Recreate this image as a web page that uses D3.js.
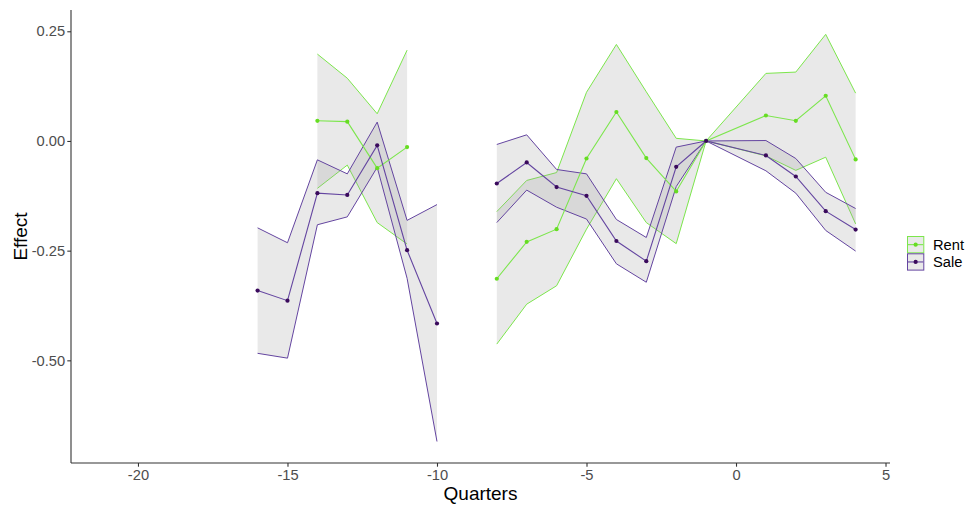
<!DOCTYPE html>
<html>
<head>
<meta charset="utf-8">
<script src="https://cdn.jsdelivr.net/npm/d3@7"></script>
<style>
  html, body { margin: 0; padding: 0; background: #fff; }
  svg { display: block; font-family: "Liberation Sans", Arial, sans-serif; }
</style>
</head>
<body>
<svg id="chart" width="968" height="508"></svg>
<script>
// Event-study estimates by quarter relative to the reference period (-1)
const quarters = [-16, -15, -14, -13, -12, -11, -10, -9, -8, -7, -6, -5, -4, -3, -2, -1, 1, 2, 3, 4];

const saleEst = [-0.341, -0.364, -0.119, -0.123, -0.010, -0.249, -0.416, null, -0.097, -0.049, -0.105, -0.125, -0.228, -0.274, -0.059, 0, -0.033, -0.081, -0.160, -0.202];
const saleHi  = [-0.198, -0.232, -0.043, -0.075,  0.043, -0.181, -0.145, null, -0.008,  0.014, -0.065, -0.075, -0.179, -0.220, -0.014, 0,  0.001, -0.040, -0.117, -0.154];
const saleLo  = [-0.484, -0.495, -0.191, -0.173, -0.060, -0.313, -0.685, null, -0.186, -0.112, -0.151, -0.178, -0.280, -0.322, -0.104, 0, -0.068, -0.119, -0.204, -0.251];

const rentEst = [null, null,  0.046,  0.044, -0.062, -0.014, null, null, -0.314, -0.230, -0.201, -0.040,  0.066, -0.039, -0.115, 0,  0.058,  0.046,  0.103, -0.042];
const rentHi  = [null, null,  0.198,  0.143,  0.062,  0.207, null, null, -0.161, -0.090, -0.072,  0.111,  0.220,  0.112,  0.006, 0,  0.154,  0.157,  0.243,  0.109];
const rentLo  = [null, null, -0.108, -0.055, -0.186, -0.235, null, null, -0.463, -0.372, -0.330, -0.201, -0.086, -0.186, -0.234, 0, -0.034, -0.067, -0.037, -0.189];

const xTicks = [-20, -15, -10, -5, 0, 5];
const yTicks = [0.25, 0, -0.25, -0.5];

const seriesNames = ["Rent", "Sale"];
const seriesColor = { Rent: "#7ce64c", Sale: "#6445a0" };
const pointColor  = { Rent: "#66dd22", Sale: "#3a0a5c" };

const series = [
  { name: "Rent", est: rentEst, hi: rentHi, lo: rentLo },
  { name: "Sale", est: saleEst, hi: saleHi, lo: saleLo }
].map(s => ({
  name: s.name,
  rows: quarters.map((q, i) => ({ q, est: s.est[i], hi: s.hi[i], lo: s.lo[i] }))
}));

const svg = d3.select("#chart");
const panel = { left: 71, right: 890, top: 10, bottom: 463 };

const x = d3.scaleLinear().domain([-22.24, 5.15]).range([panel.left, panel.right]);
const y = d3.scaleLinear().domain([-0.734, 0.2985]).range([panel.bottom, panel.top]);

// plain hyphen-minus for negative tick labels
const locale = d3.formatLocale({ decimal: ".", thousands: ",", grouping: [3], currency: ["", ""], minus: "-" });
const fmtX = locale.format("d");
const fmtY = locale.format(".2f");

const ribbonFill = "#9a9a9a", ribbonOpacity = 0.22;

const area = d3.area()
  .defined(d => d.hi !== null)
  .x(d => x(d.q)).y0(d => y(d.lo)).y1(d => y(d.hi));
const lineOf = key => d3.line()
  .defined(d => d[key] !== null)
  .x(d => x(d.q)).y(d => y(d[key]));

const plot = svg.append("g");

// confidence ribbons with outlined bounds
series.forEach(s => {
  plot.append("path").datum(s.rows)
    .attr("d", area)
    .attr("fill", ribbonFill).attr("fill-opacity", ribbonOpacity);
  ["hi", "lo"].forEach(k => {
    plot.append("path").datum(s.rows)
      .attr("d", lineOf(k))
      .attr("fill", "none")
      .attr("stroke", seriesColor[s.name])
      .attr("stroke-width", 1);
  });
});

// point estimates
series.forEach(s => {
  plot.append("path").datum(s.rows)
    .attr("d", lineOf("est"))
    .attr("fill", "none")
    .attr("stroke", seriesColor[s.name])
    .attr("stroke-width", 1.1);
});
series.forEach(s => {
  plot.selectAll(null).data(s.rows.filter(d => d.est !== null)).enter()
    .append("circle")
    .attr("cx", d => x(d.q)).attr("cy", d => y(d.est))
    .attr("r", 2.1)
    .attr("fill", pointColor[s.name]);
});

// axes
const xAxis = svg.append("g")
  .attr("transform", `translate(0,${panel.bottom})`)
  .call(d3.axisBottom(x).tickValues(xTicks).tickSize(3.7).tickPadding(2.5).tickFormat(fmtX));
const yAxis = svg.append("g")
  .attr("transform", `translate(${panel.left},0)`)
  .call(d3.axisLeft(y).tickValues(yTicks).tickSize(3.7).tickPadding(2.2).tickFormat(fmtY));

[xAxis, yAxis].forEach(a => {
  a.select(".domain").attr("stroke", "#333").attr("stroke-width", 1.1)
    .attr("d", a === xAxis ? `M${panel.left},0H${panel.right}` : `M0,${panel.top}V${panel.bottom}`);
  a.selectAll(".tick line").attr("stroke", "#333").attr("stroke-width", 1.1);
  a.selectAll(".tick text").attr("fill", "#4d4d4d").style("font-size", "14.7px")
    .style("font-family", "'Liberation Sans', Arial, sans-serif");
});

// axis titles
svg.append("text")
  .attr("x", (panel.left + panel.right) / 2).attr("y", 500)
  .attr("text-anchor", "middle")
  .style("font-size", "19px").attr("fill", "#000")
  .text("Quarters");
svg.append("text")
  .attr("transform", `translate(26.5,${(panel.top + panel.bottom) / 2}) rotate(-90)`)
  .attr("text-anchor", "middle")
  .style("font-size", "19px").attr("fill", "#000")
  .text("Effect");

// legend
const legend = svg.append("g").attr("transform", "translate(907,236)");
seriesNames.forEach((name, i) => {
  const g = legend.append("g").attr("transform", `translate(0,${i * 17.3})`);
  g.append("rect").attr("x", 0.5).attr("y", 0.5).attr("width", 16.3).attr("height", 16.3)
    .attr("fill", "#fff");
  g.append("rect").attr("x", 0.5).attr("y", 0.5).attr("width", 16.3).attr("height", 16.3)
    .attr("fill", ribbonFill).attr("fill-opacity", ribbonOpacity)
    .attr("stroke", seriesColor[name]).attr("stroke-width", 1);
  g.append("line").attr("x1", 1).attr("x2", 16.3).attr("y1", 8.65).attr("y2", 8.65)
    .attr("stroke", seriesColor[name]).attr("stroke-width", 1.1);
  g.append("circle").attr("cx", 8.65).attr("cy", 8.65).attr("r", 2.1).attr("fill", pointColor[name]);
  g.append("text").attr("x", 26).attr("y", 8.65).attr("dy", "0.36em")
    .style("font-size", "14.7px").attr("fill", "#000").text(name);
});
</script>
</body>
</html>
